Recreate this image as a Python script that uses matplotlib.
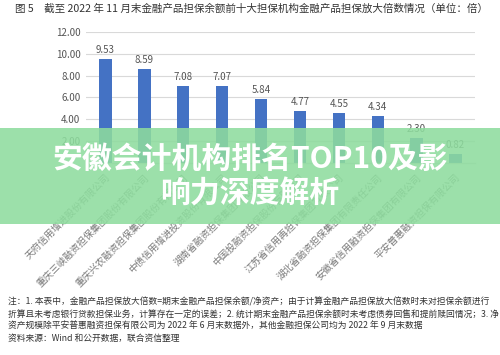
import matplotlib
matplotlib.use('Agg')
import matplotlib.pyplot as plt
from matplotlib.patches import Rectangle

plt.rcParams['font.family'] = ['Noto Sans CJK SC', 'DejaVu Sans']

# data
companies = ['天府信用增进股份有限公司', '重庆三峡融资担保集团股份有限公司',
             '重庆兴农融资担保集团股份有限公司', '中债信用增进投资股份有限公司',
             '湖南省融资担保集团有限公司', '中国投融资担保股份有限公司',
             '江苏省信用再担保集团有限公司', '湖北省融资担保集团有限责任公司',
             '安徽省信用融资担保集团有限公司', '平安普惠融资担保有限公司']
multiples = [9.53, 8.59, 7.08, 7.07, 5.84, 4.77, 4.55, 4.34, 2.30, 0.82]
yticks = [0, 2, 4, 6, 8, 10, 12]

title = '图 5　截至 2022 年 11 月末金融产品担保余额前十大担保机构金融产品担保放大倍数情况（单位：倍）'
notes = ['注：1. 本表中，金融产品担保放大倍数=期末金融产品担保余额/净资产；由于计算金融产品担保放大倍数时未对担保余额进行',
         '折算且未考虑银行贷款担保业务，计算存在一定的误差；2. 统计期末金融产品担保余额时未考虑债券回售和提前赎回情况；3. 净',
         '资产规模除平安普惠融资担保有限公司为 2022 年 6 月末数据外，其他金融担保公司均为 2022 年 9 月末数据',
         '资料来源：Wind 和公开数据，联合资信整理']
banner = '安徽会计机构排名TOP10及影\n响力深度解析'

fig = plt.figure(figsize=(5, 3.55), dpi=100)
ax = fig.add_axes([0.172, 0.541, 0.778, 0.369])

x = range(len(companies))
ax.bar(x, multiples, width=0.32, color='#4472c4', zorder=2)
for xi, v in zip(x, multiples):
    ax.text(xi, v + 0.35, f'{v:.2f}', ha='center', va='bottom', fontsize=7, color='#555555')

ax.set_ylim(0, 12)
ax.set_xlim(-0.5, len(companies) - 0.5)
ax.set_yticks(yticks)
ax.set_yticklabels([f'{t:.2f}' if t else '' for t in yticks], fontsize=7, color='#555555')
ax.yaxis.grid(True, color='#d9d9d9', linewidth=0.8, zorder=0)
ax.set_xticks(list(x))
ax.set_xticklabels(companies, rotation=45, ha='right', rotation_mode='anchor',
                   fontsize=6.9, color='#7a7a7a')
ax.tick_params(axis='y', length=0, pad=4)
ax.tick_params(axis='x', length=0, pad=7)
for s in ['top', 'right', 'left']:
    ax.spines[s].set_visible(False)
ax.spines['bottom'].set_color('#d9d9d9')

fig.text(0.03, 0.977, title, fontsize=7.6, color='#333333', va='center', ha='left')
for i, line in enumerate(notes):
    fig.text(0.016, 1 - (302 + 12 * i) / 355, line, fontsize=6.3, color='#333333',
             va='center', ha='left')

# green banner overlay
fig.patches.append(Rectangle((0, 1 - 224 / 355), 1, 96 / 355, transform=fig.transFigure,
                             facecolor='#8edc9e', alpha=0.88, zorder=5))
fig.text(0.5, 1 - 176 / 355, banner, fontsize=21.5, fontweight='bold', color='white',
         ha='center', va='center', linespacing=1.2, zorder=6)

fig.savefig('out.png', dpi=100)
